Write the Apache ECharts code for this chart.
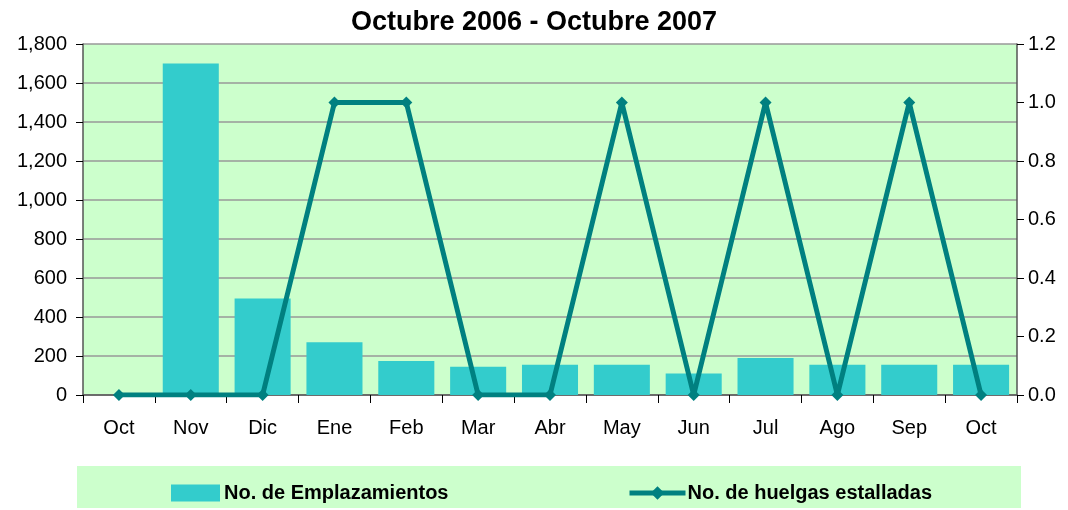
<!DOCTYPE html>
<html><head><meta charset="utf-8">
<script src="https://cdn.jsdelivr.net/npm/echarts@6/dist/echarts.min.js"></script>
<style>html,body{margin:0;padding:0;background:#fff}#c{width:1068px;height:510px}</style>
</head><body><div id="c"></div>
<script>
const categories = ['Oct','Nov','Dic','Ene','Feb','Mar','Abr','May','Jun','Jul','Ago','Sep','Oct'];
const emplazamientos = [0,1700,495,270,175,145,155,155,110,190,155,155,155];
const huelgas = [0,0,0,1,1,0,0,1,0,1,0,1,0];
const titleText = 'Octubre 2006 - Octubre 2007';
const barName = 'No. de Emplazamientos';
const lineName = 'No. de huelgas estalladas';

const font = 'Liberation Sans, Arial, sans-serif';
const chart = echarts.init(document.getElementById('c'));
chart.setOption({
  animation: false,
  title: {text: titleText, left: 'center', top: 4,
    textStyle: {fontFamily: font, fontSize: 27, fontWeight: 'bold', color: '#000'}},
  graphic: [{type: 'rect', left: 77, top: 466, z: -1,
    shape: {width: 944, height: 42}, style: {fill: '#CCFFCC'}}],
  legend: [
    {data: [barName], left: 166, top: 478, itemWidth: 49, itemHeight: 17, itemGap: 4,
     icon: 'rect',
     textStyle: {fontFamily: font, fontSize: 20, fontWeight: 'bold', color: '#000', padding: [0,0,0,-1]}},
    {data: [lineName], left: 622, top: 478, itemWidth: 56, itemHeight: 17,
     lineStyle: {width: 5},
     textStyle: {fontFamily: font, fontSize: 20, fontWeight: 'bold', color: '#000', padding: [0,0,0,-3]}}
  ],
  grid: {left: 83, right: 51, top: 44, bottom: 115, backgroundColor: '#CCFFCC', show: true, borderWidth: 0},
  xAxis: {type: 'category', data: categories,
    axisLine: {lineStyle: {color: '#555', width: 1.5}},
    axisTick: {show: true, alignWithLabel: false, length: 8, lineStyle: {color: '#000'}},
    axisLabel: {fontFamily: font, fontSize: 20, color: '#000', margin: 23}},
  yAxis: [
    {type: 'value', min: 0, max: 1800, interval: 200,
     axisLine: {show: true, lineStyle: {color: '#555', width: 1.5}},
     axisTick: {show: true, length: 7, lineStyle: {color: '#000'}},
     splitLine: {lineStyle: {color: '#999', width: 1.5}},
     axisLabel: {fontFamily: font, fontSize: 20, color: '#000', margin: 16,
       formatter: v => v.toLocaleString('en-US')}},
    {type: 'value', min: 0, max: 1.2, interval: 0.2, position: 'right',
     axisLine: {show: true, lineStyle: {color: '#555', width: 1.5}},
     axisTick: {show: true, length: 7, inside: false, lineStyle: {color: '#000'}},
     splitLine: {show: false},
     axisLabel: {fontFamily: font, fontSize: 20, color: '#000', margin: 11,
       formatter: v => v.toFixed(1)}}
  ],
  series: [
    {name: barName, type: 'bar', data: emplazamientos, yAxisIndex: 0,
     itemStyle: {color: '#33CCCC'}, barCategoryGap: '22%'},
    {name: lineName, type: 'line', data: huelgas, yAxisIndex: 1,
     symbol: 'diamond', symbolSize: 12,
     lineStyle: {color: '#008080', width: 5}, itemStyle: {color: '#008080'}}
  ]
});
</script></body></html>
